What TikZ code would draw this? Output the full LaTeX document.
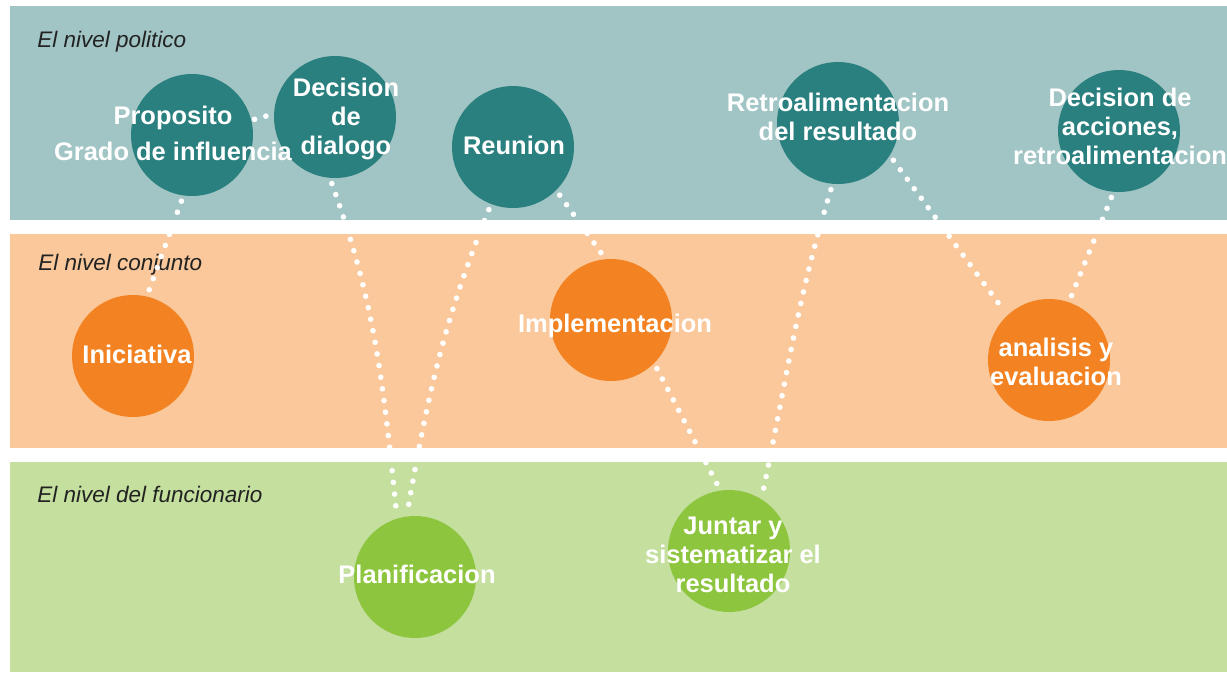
\documentclass[tikz,border=0pt]{standalone}
\usepackage{fontspec}
\setmainfont{Liberation Sans}
\definecolor{polband}{RGB}{161,196,196}
\definecolor{polball}{RGB}{41,128,126}
\definecolor{conband}{RGB}{250,200,155}
\definecolor{conball}{RGB}{243,131,34}
\definecolor{funband}{RGB}{196,223,158}
\definecolor{funball}{RGB}{141,198,62}
\definecolor{titlegray}{RGB}{34,34,34}
\begin{document}
\begin{tikzpicture}[x=0.02cm, y=-0.02cm,
  ball/.style={circle, minimum size=2.44cm, inner sep=0pt, outer sep=0pt},
  word/.style={text=white, align=center, inner sep=0pt,
    font=\bfseries\fontsize{14.5}{16.5}\selectfont},
  level/.style={anchor=base west, inner sep=0pt, text=titlegray,
    font=\itshape\fontsize{12.8}{15}\selectfont},
  dots/.style={draw=white, line width=3.2pt, line cap=round,
    dash pattern=on 0pt off 6.7pt, shorten <=3.5pt, shorten >=3.5pt}]
\useasboundingbox (0,0) rectangle (1227,674);
\clip (0,0) rectangle (1227,674);
% bands
\fill[polband] (10,6) rectangle (1227,220);
\fill[conband] (10,234) rectangle (1227,448);
\fill[funband] (10,462) rectangle (1227,672);
\node[level] (pol) at (37,47) {El nivel politico};
\node[level] (con) at (38,270) {El nivel conjunto};
\node[level] (fun) at (37,502) {El nivel del funcionario};
% circles
\foreach \n/\x/\y/\c in {prop/192/135/polball, dec/335/117/polball,
    reu/513/147/polball, retro/838/123/polball, deca/1119/131/polball,
    inic/133/356/conball, impl/611/320/conball, anal/1049/360/conball,
    plan/415/577/funball, junt/729/551/funball}
  \node[ball, fill=\c] (\n) at (\x,\y) {};
% dotted links
\draw[dots, shorten <=2pt, shorten >=2pt] (prop.14) -- (dec.177);
\draw[dots] (prop.-98) -- (inic.77);
\draw[dots] (dec.-95) to[out=-70, in=96] (plan.107);
\draw[dots] (reu.-111) to[out=-112, in=80] (plan.98);
\draw[dots] (reu.-45) -- (impl.95);
\draw[dots] (impl.-45) -- (junt.98);
\draw[dots] (retro.-95) to[out=-107, in=78] (junt.58);
\draw[dots] (retro.-32) -- (anal.133);
\draw[dots] (deca.-95) -- (anal.71);
% texts
\node[word] (prop-t) at (173,133) {Proposito\\[4pt]Grado de influencia};
\node[word] (dec-t) at (346,119) {Decision\\de\\dialogo};
\node[word] (reu-t) at (514,145) {Reunion};
\node[word] (retro-t) at (838,117) {Retroalimentacion\\del resultado};
\node[word] (deca-t) at (1120,126) {Decision de\\acciones,\\retroalimentacion};
\node[word] (inic-t) at (137,354) {Iniciativa};
\node[word] (impl-t) at (615,326) {Implementacion};
\node[word] (anal-t) at (1056,362) {analisis y\\evaluacion};
\node[word] (plan-t) at (417,574) {Planificacion};
\node[word] (junt-t) at (733,555) {Juntar y\\sistematizar el\\resultado};
\end{tikzpicture}
\end{document}
